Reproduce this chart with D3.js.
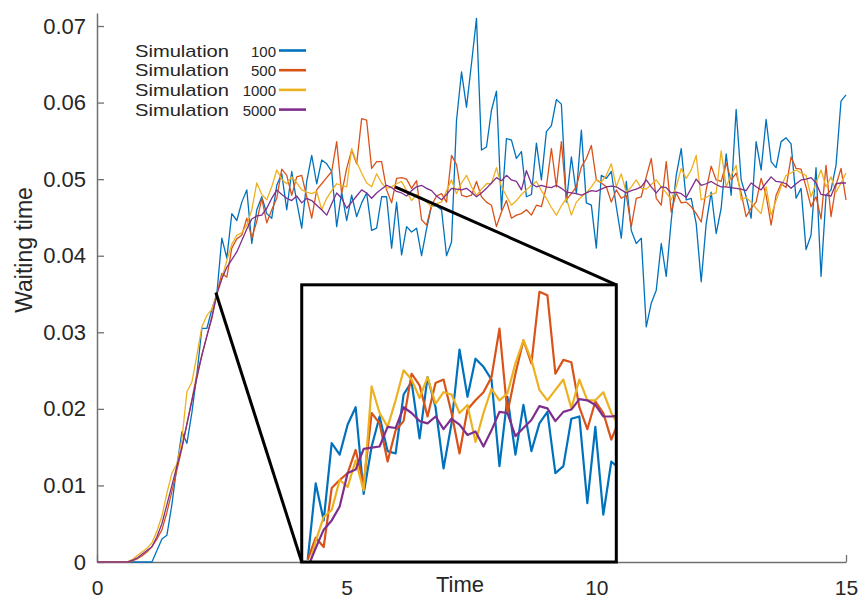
<!DOCTYPE html>
<html>
<head>
<meta charset="utf-8">
<script src="https://cdnjs.cloudflare.com/ajax/libs/d3/7.8.5/d3.min.js"></script>
<style>
body { margin: 0; background: #fff; }
svg text { font-family: "Liberation Sans", Arial, sans-serif; fill: #262626; }
</style>
</head>
<body>
<div id="main"></div>
<script>
var width = 858,
    height = 600;

// time grid: 0 .. 15 in steps of 0.1
var tStart = 0, tStep = 0.1;

var sim100 = [
    0,0,0,0,0,0,0,0,0,0,
    0,0,0.0015,0.003,0.0035,0.0075,0.0125,0.017,0.0155,0.0195,
    0.0245,0.0305,0.0305,0.033,0.035,0.0423,0.0397,0.0455,0.0446,0.047,
    0.0486,0.0416,0.046,0.0477,0.0455,0.0449,0.0492,0.0507,0.046,0.051,
    0.047,0.0436,0.0497,0.0531,0.0494,0.0525,0.052,0.051,0.0438,0.0483,
    0.0446,0.0479,0.0451,0.0469,0.0482,0.0433,0.0436,0.0477,0.0477,0.041,
    0.047,0.0401,0.0438,0.0431,0.0436,0.040,0.0435,0.0465,0.0465,0.046,
    0.040,0.0418,0.0577,0.064,0.0594,0.0651,0.071,0.0538,0.0542,0.059,
    0.0615,0.046,0.0553,0.0551,0.0527,0.0536,0.0477,0.048,0.0547,0.0499,
    0.0562,0.057,0.0604,0.0598,0.047,0.0529,0.0481,0.0564,0.0469,0.0466,
    0.041,0.0505,0.0501,0.051,0.0464,0.0423,0.0497,0.0433,0.0416,0.0423,
    0.0307,0.0338,0.0355,0.0416,0.0373,0.0446,0.0505,0.054,0.0473,0.0475,
    0.0442,0.0366,0.0442,0.0483,0.0429,0.0462,0.0533,0.0479,0.0591,0.0499,
    0.0477,0.0449,0.0549,0.0512,0.0578,0.0523,0.0515,0.0549,0.0554,0.0546,
    0.0475,0.0488,0.0408,0.0427,0.0515,0.0373,0.0479,0.0486,0.0518,0.0602,
    0.061
];
var sim500 = [
    0,0,0,0,0,0,0,0.0001,0.0004,0.0008,
    0.0013,0.002,0.003,0.0042,0.0065,0.0092,0.012,0.0148,0.018,0.0212,
    0.0245,0.027,0.0295,0.0318,0.035,0.0377,0.0372,0.041,0.0422,0.0427,
    0.0449,0.0423,0.0445,0.0475,0.0443,0.046,0.0475,0.0513,0.0505,0.0479,
    0.0503,0.0505,0.0477,0.0449,0.0486,0.0494,0.0502,0.051,0.0549,0.0481,
    0.0514,0.0538,0.052,0.0579,0.0577,0.0514,0.0523,0.0523,0.0486,0.0469,
    0.0501,0.0502,0.05,0.0488,0.0498,0.0447,0.044,0.0466,0.0478,0.0481,
    0.047,0.0531,0.0519,0.0479,0.0477,0.0479,0.0497,0.0477,0.047,0.0466,
    0.0438,0.0457,0.0472,0.0449,0.0453,0.0455,0.046,0.0453,0.0466,0.0464,
    0.049,0.054,0.049,0.0549,0.0473,0.0481,0.049,0.0516,0.0527,0.0544,
    0.0499,0.0495,0.049,0.047,0.0486,0.0475,0.0479,0.0438,0.0475,0.0477,
    0.0503,0.0527,0.0475,0.0466,0.0523,0.0457,0.0482,0.0469,0.047,0.0464,
    0.0455,0.0444,0.0486,0.0517,0.0499,0.0497,0.0521,0.0499,0.0508,0.0482,
    0.0451,0.0462,0.047,0.0501,0.0479,0.044,0.0479,0.0494,0.0489,0.0529,
    0.0514,0.0513,0.049,0.0464,0.0477,0.0448,0.0518,0.0451,0.0492,0.0514,
    0.0473
];
var sim1000 = [
    0,0,0,0,0,0,0,0.0003,0.0008,0.0013,
    0.0018,0.0025,0.004,0.006,0.009,0.0116,0.0128,0.016,0.0222,0.0235,
    0.027,0.0307,0.0322,0.033,0.035,0.037,0.0394,0.0415,0.0427,0.043,
    0.044,0.046,0.0495,0.048,0.0473,0.049,0.0512,0.05,0.0494,0.0503,
    0.0495,0.0486,0.0483,0.0481,0.0484,0.046,0.0475,0.0485,0.0494,0.0492,
    0.049,0.054,0.0522,0.0508,0.0495,0.049,0.0507,0.0495,0.0488,0.049,
    0.0494,0.0497,0.0485,0.0472,0.048,0.0476,0.047,0.0464,0.0468,0.047,
    0.0485,0.0499,0.0481,0.0495,0.0505,0.049,0.0479,0.0487,0.0494,0.0494,
    0.0515,0.049,0.0478,0.0466,0.0472,0.048,0.0486,0.0492,0.0497,0.0485,
    0.0475,0.0463,0.0453,0.0465,0.0475,0.0453,0.047,0.0477,0.0482,0.049,
    0.0499,0.0496,0.0505,0.052,0.049,0.0507,0.0482,0.049,0.0499,0.0488,
    0.0487,0.0493,0.0499,0.049,0.0482,0.0473,0.049,0.0514,0.0501,0.0512,
    0.0531,0.0473,0.0476,0.048,0.0482,0.0537,0.049,0.0505,0.0518,0.0473,
    0.0476,0.047,0.0462,0.0455,0.049,0.0453,0.0472,0.049,0.0505,0.0508,
    0.0512,0.0508,0.0505,0.0477,0.0495,0.0512,0.049,0.0503,0.0483,0.0495,
    0.0508
];
var sim5000 = [
    0,0,0,0,0,0,0,0.0002,0.0005,0.001,
    0.0015,0.002,0.0033,0.005,0.0075,0.01,0.0125,0.015,0.018,0.021,
    0.024,0.027,0.0295,0.032,0.035,0.037,0.0385,0.0395,0.0405,0.042,
    0.0435,0.0448,0.0452,0.0453,0.0462,0.0475,0.0486,0.048,0.0475,0.0472,
    0.0478,0.0469,0.0475,0.0472,0.0466,0.046,0.0453,0.0468,0.0482,0.0475,
    0.0462,0.047,0.0478,0.0486,0.0482,0.0475,0.0482,0.0487,0.0492,0.0489,
    0.0484,0.0482,0.0478,0.0485,0.049,0.0492,0.0488,0.0485,0.0478,0.0473,
    0.048,0.0488,0.0487,0.0486,0.0488,0.0483,0.0477,0.0482,0.0488,0.0495,
    0.0502,0.0498,0.0505,0.0499,0.0497,0.0486,0.0511,0.0494,0.049,0.0492,
    0.049,0.0489,0.0492,0.0488,0.0483,0.0482,0.0481,0.0479,0.0482,0.0485,
    0.0484,0.0487,0.049,0.0491,0.049,0.0486,0.0482,0.0485,0.0487,0.049,
    0.0499,0.049,0.0482,0.049,0.0489,0.0482,0.0483,0.0481,0.0476,0.0488,
    0.05,0.0492,0.0494,0.0497,0.0493,0.049,0.049,0.0489,0.0488,0.0487,
    0.0485,0.0495,0.049,0.0486,0.0495,0.0503,0.0497,0.0496,0.0494,0.0488,
    0.0494,0.0499,0.05,0.0502,0.0495,0.048,0.0479,0.0478,0.0494,0.0495,
    0.0495
];

// zoomed window (finer resolution samples drawn in the inset)
var zoom100 = [
    0.0352,0.0418,0.0386,0.0453,0.0443,0.0469,0.0484,0.0409,0.0450,0.0476,
    0.0446,0.0444,0.0495,0.0506,0.0457,0.0510,0.0484,0.0431,0.0470,0.0534,
    0.0493,0.0526,0.0519,0.0508,0.0433,0.0493,0.0443,0.0486,0.0446,0.0470,
    0.0480,0.0427,0.0433,0.0474,0.0476,0.0401,0.0467,0.0391,0.0437,0.0431
];
var zoom500 = [
    0.0352,0.0371,0.0363,0.0414,0.0421,0.0427,0.0447,0.0417,0.0479,0.0470,
    0.0437,0.0464,0.0472,0.0513,0.0503,0.0476,0.0505,0.0508,0.0479,0.0444,
    0.0482,0.0490,0.0497,0.0510,0.0552,0.0479,0.0513,0.0542,0.0522,0.0584,
    0.0581,0.0513,0.0525,0.0523,0.0484,0.0465,0.0489,0.0479,0.0456,0.0473
];
var zoom1000 = [
    0.0342,0.0368,0.0389,0.0395,0.0421,0.0415,0.0438,0.0412,0.0502,0.0479,
    0.0467,0.0490,0.0516,0.0508,0.0492,0.0510,0.0487,0.0497,0.0495,0.0479,
    0.0486,0.0454,0.0479,0.0500,0.0490,0.0496,0.0522,0.0542,0.0525,0.0499,
    0.0490,0.0499,0.0508,0.0483,0.0508,0.0490,0.0490,0.0497,0.0479,0.0467
];
var zoom5000 = [
    0.0345,0.0362,0.0378,0.0386,0.0398,0.0427,0.0430,0.0448,0.0449,0.0450,
    0.0467,0.0466,0.0484,0.0479,0.0472,0.0470,0.0476,0.0465,0.0474,0.0469,
    0.0460,0.0463,0.0450,0.0464,0.0480,0.0479,0.0459,0.0466,0.0473,0.0485,
    0.0483,0.0472,0.0480,0.0482,0.0491,0.0490,0.0486,0.0476,0.0476,0.0477
];

var names = ["100", "500", "1000", "5000"];
var colors = ["#0072BD", "#D95319", "#EDB120", "#7E2F8E"];
var xTicks = [0, 5, 10, 15];
var yTicks = [0, 0.01, 0.02, 0.03, 0.04, 0.05, 0.06, 0.07];

// zoom source corners (main coords) and inset box (main coords)
var zoomFrom = [[2.38, 0.0352], [5.97, 0.049]];
var insetBox = {t0: 4.1, t1: 10.4, v0: 0, v1: 0.0362};
var insetRange = [0.035, 0.059];

var mainSeries = [sim100, sim500, sim1000, sim5000];
var zoomSeries = [zoom100, zoom500, zoom1000, zoom5000];

var svg = d3.select("#main").append("svg")
    .attr("width", width)
    .attr("height", height);

var x = d3.scaleLinear().domain([0, 15]).range([97, 846]);
var y = d3.scaleLinear().domain([0, 0.0717]).range([562, 13]);

var axisColor = "#707070";

// axes
var yAxis = svg.append("g")
    .attr("transform", "translate(" + x(0) + ",0)")
    .call(d3.axisLeft(y)
        .tickValues(yTicks)
        .tickSizeInner(-7)
        .tickSizeOuter(0)
        .tickPadding(11)
        .tickFormat(function(d){ return d === 0 ? "0" : d3.format(".2f")(d); }));
var xAxis = svg.append("g")
    .attr("transform", "translate(0," + y(0) + ")")
    .call(d3.axisBottom(x)
        .tickValues(xTicks)
        .tickSizeInner(-7)
        .tickSizeOuter(0)
        .tickPadding(18));

[yAxis, xAxis].forEach(function(a){
    a.select(".domain").attr("stroke", axisColor).attr("stroke-width", 1.5);
    a.selectAll(".tick line").attr("stroke", axisColor).attr("stroke-width", 1.3);
    a.selectAll(".tick text")
        .style("font-family", "Liberation Sans, Arial, sans-serif")
        .style("font-size", "21px")
        .attr("fill", "#262626");
});
yAxis.selectAll(".tick text").style("font-size", "22px");

svg.append("text")
    .attr("transform", "translate(32,250) rotate(-90)")
    .attr("text-anchor", "middle")
    .style("font-size", "23px")
    .text("Waiting time");

svg.append("text")
    .attr("x", 460)
    .attr("y", 592)
    .attr("text-anchor", "middle")
    .style("font-size", "22px")
    .text("Time");

// main lines
var line = d3.line()
    .x(function(d, i){ return x(tStart + i * tStep); })
    .y(function(d){ return y(d); });

mainSeries.forEach(function(s, k){
    svg.append("path")
        .datum(s)
        .attr("fill", "none")
        .attr("stroke", colors[k])
        .attr("stroke-width", 1.3)
        .attr("stroke-linejoin", "round")
        .attr("d", line);
});

// inset
var bx0 = x(insetBox.t0), bx1 = x(insetBox.t1),
    by0 = y(insetBox.v0), by1 = y(insetBox.v1);

svg.append("line")
    .attr("x1", x(zoomFrom[0][0])).attr("y1", y(zoomFrom[0][1]))
    .attr("x2", bx0).attr("y2", by0)
    .attr("stroke", "#000").attr("stroke-width", 3);
svg.append("line")
    .attr("x1", x(zoomFrom[1][0])).attr("y1", y(zoomFrom[1][1]))
    .attr("x2", bx1).attr("y2", by1)
    .attr("stroke", "#000").attr("stroke-width", 3);

svg.append("rect")
    .attr("x", bx0).attr("y", by1)
    .attr("width", bx1 - bx0).attr("height", by0 - by1)
    .attr("fill", "#fff");

svg.append("clipPath").attr("id", "insetClip")
    .append("rect")
    .attr("x", bx0).attr("y", by1)
    .attr("width", bx1 - bx0).attr("height", by0 - by1);

var zx = d3.scaleLinear().domain([0, 38]).range([bx0 + 6, bx1 - 5]);
var zy = d3.scaleLinear().domain(insetRange).range([by0, by1]);

var zline = d3.line()
    .x(function(d, i){ return zx(i); })
    .y(function(d){ return zy(d); });

var inset = svg.append("g").attr("clip-path", "url(#insetClip)");
zoomSeries.forEach(function(s, k){
    inset.append("path")
        .datum(s)
        .attr("fill", "none")
        .attr("stroke", colors[k])
        .attr("stroke-width", 2.2)
        .attr("stroke-linejoin", "round")
        .attr("d", zline);
});

svg.append("rect")
    .attr("x", bx0).attr("y", by1)
    .attr("width", bx1 - bx0).attr("height", by0 - by1)
    .attr("fill", "none")
    .attr("stroke", "#000")
    .attr("stroke-width", 3);

// legend
var legend = svg.append("g");
names.forEach(function(n, k){
    var base = 56.5 + k * 19.7;
    legend.append("text")
        .attr("x", 135).attr("y", base)
        .attr("textLength", 94)
        .attr("lengthAdjust", "spacingAndGlyphs")
        .style("font-size", "17px")
        .text("Simulation");
    legend.append("text")
        .attr("x", 276).attr("y", base)
        .attr("text-anchor", "end")
        .style("font-size", "15px")
        .text(n);
    legend.append("line")
        .attr("x1", 279).attr("x2", 306)
        .attr("y1", base - 6).attr("y2", base - 6)
        .attr("stroke", colors[k])
        .attr("stroke-width", 2.6);
});
</script>
</body>
</html>
